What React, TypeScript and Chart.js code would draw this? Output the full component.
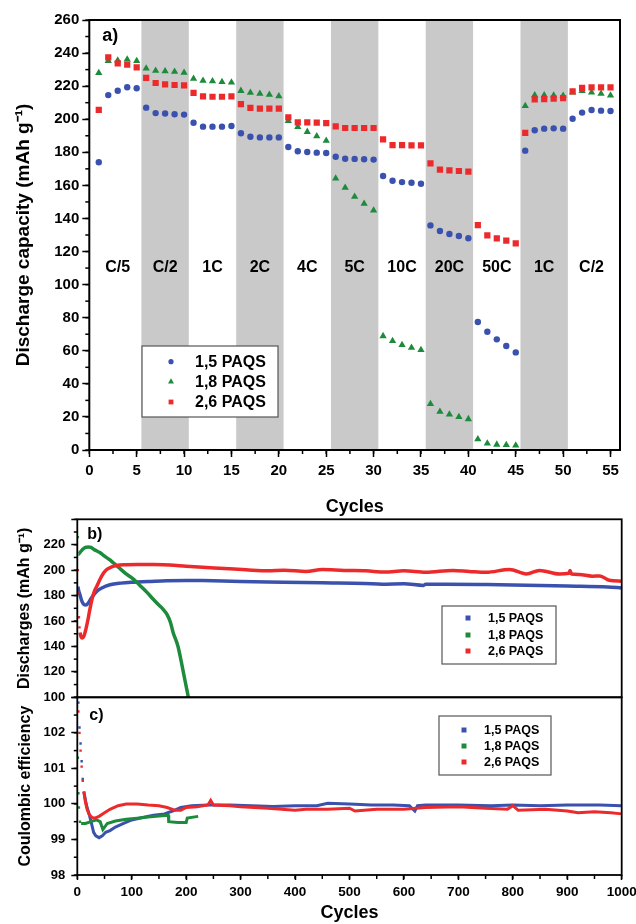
import React, { useEffect, useRef } from 'react';
import { Chart, registerables } from 'chart.js';

Chart.register(...registerables);

const FONT = '"Liberation Sans", Arial, Helvetica, sans-serif';
const BLUE = '#3A52AE';
const GREEN = '#1C8B3B';
const RED = '#EC2A2C';
const BAND = '#C9C9C9';

// ---------- Panel a: rate capability ----------
const cyclesA = [1, 2, 3, 4, 5, 6, 7, 8, 9, 10, 11, 12, 13, 14, 15, 16, 17, 18, 19, 20, 21, 22, 23, 24, 25, 26, 27, 28, 29, 30, 31, 32, 33, 34, 35, 36, 37, 38, 39, 40, 41, 42, 43, 44, 45, 46, 47, 48, 49, 50, 51, 52, 53, 54, 55];
const capacity15 = [174, 214.6, 217.2, 219.3, 218.7, 207, 203.7, 203.5, 203, 202.8, 197.9, 195.5, 195.5, 195.5, 195.9, 191.5, 189.4, 189, 189, 189, 183.2, 180.6, 180.2, 179.8, 179.6, 177.3, 176.1, 176, 175.8, 175.6, 165.7, 162.8, 162, 161.6, 161, 135.8, 132.4, 130.6, 129.4, 128, 77.4, 71.5, 66.9, 62.9, 59, 181, 193.3, 194.3, 194.5, 194.3, 200.3, 204, 205.6, 205.2, 205];
const capacity18 = [228, 235.2, 235.6, 236.2, 235.2, 230.7, 229.4, 229, 228.8, 228.1, 224.5, 223.3, 223, 222.5, 222.2, 217.2, 216, 215.4, 214.8, 214, 199, 195.3, 192.4, 189.7, 187, 164.2, 158.6, 153.2, 149, 144.9, 68.9, 65.9, 63.5, 61.9, 60.5, 27.8, 23.2, 21.5, 20, 18.7, 6.5, 4, 3.3, 3.1, 2.8, 208, 214.6, 214.6, 214.4, 214.2, 216.2, 217.2, 216.2, 215.4, 214.4];
const capacity26 = [205.6, 237.4, 233.8, 233, 231.4, 225, 221.9, 221.1, 220.7, 220.5, 216, 213.8, 213.6, 213.6, 213.8, 209.2, 206.8, 206.4, 206.4, 206.4, 201.1, 198.1, 198.1, 197.9, 197.7, 195.7, 194.7, 194.7, 194.7, 194.7, 187.8, 184.4, 184.4, 184.2, 184.2, 173.3, 169.5, 169.1, 168.7, 168.3, 136, 129.8, 128, 126.6, 125, 191.8, 212, 212.2, 212.5, 212.8, 216.9, 218.9, 219.3, 219.3, 219.3];
const rateLabels = ['C/5', 'C/2', '1C', '2C', '4C', '5C', '10C', '20C', '50C', '1C', 'C/2'];
const cyclesPerRate = 5;
const rateLabelLevel = 110;
const seriesNames = ['1,5 PAQS', '1,8 PAQS', '2,6 PAQS'];

// ---------- Panel b: long cycling discharge capacity ----------
const b15Cycles = [1, 3, 5, 8, 12, 16, 20, 25, 30, 36, 45, 60, 80, 103, 130, 164, 200, 230, 300, 379, 450, 528, 560, 600, 636, 640, 677, 751, 825, 900, 974, 1000];
const b15Cap = [187, 183, 180.5, 176, 173, 172.5, 174, 177.5, 180.5, 183.5, 186, 188.5, 189.8, 190.5, 191, 191.7, 191.9, 191.8, 191, 190.5, 190, 189.5, 189, 189.3, 188, 189, 189, 188.7, 188.2, 187.5, 186.8, 186];
const b18Cycles = [1, 2, 5, 10, 15, 20, 25, 30, 36, 42, 50, 60, 66, 75, 91, 103, 115, 128, 140, 150, 158, 165, 171, 176, 185, 191, 197, 204];
const b18Cap = [226, 212.5, 214, 216.5, 218, 218.3, 218, 216.5, 215, 213.7, 211, 208, 205.8, 202.5, 196.6, 193, 188, 182.5, 176.9, 172.5, 169, 165, 159, 151, 140, 128, 115, 100];
const b26Cycles = [1, 2, 3, 4, 5, 7, 9, 12, 16, 20, 23, 27, 31, 36, 42, 48, 54, 63, 72, 90, 110, 140, 170, 200, 230, 270, 310, 350, 380, 420, 450, 490, 530, 565, 600, 640, 690, 720, 751, 794, 825, 849, 886, 903, 905, 908, 922, 946, 960, 977, 1000];
const b26Cap = [200, 182, 163, 155, 151, 147.5, 146.6, 148, 154, 162, 169, 177, 183, 187.5, 193, 197.5, 200.5, 202.5, 203.7, 204.3, 204.5, 204.4, 204, 203, 202.2, 201.3, 200.3, 199.5, 200, 199, 200.5, 199.8, 199.5, 198.5, 199.5, 198.3, 199.8, 199, 198.3, 200.6, 197, 199.8, 197, 197.5, 199.8, 197, 196.6, 195.3, 195.5, 192, 191.3];

// ---------- Panel c: coulombic efficiency ----------
const c15Cycles = [2, 4, 6, 8, 10, 12, 15, 18, 22, 26, 30, 34, 40, 46, 52, 60, 70, 85, 100, 120, 140, 160, 175, 190, 210, 240, 280, 320, 360, 400, 440, 460, 500, 540, 580, 610, 620, 625, 640, 700, 760, 800, 850, 900, 960, 1000];
const c15Eff = [102.85, 102.15, 101.7, 101.2, 100.7, 100.35, 100.1, 99.9, 99.7, 99.45, 99.2, 99.1, 99.05, 99.1, 99.2, 99.25, 99.35, 99.45, 99.55, 99.62, 99.68, 99.72, 99.8, 99.9, 99.95, 99.97, 99.97, 99.95, 99.93, 99.95, 99.95, 100.02, 100.0, 99.97, 99.97, 99.95, 99.8, 99.95, 99.97, 99.97, 99.95, 99.97, 99.95, 99.97, 99.97, 99.95];
const c18Cycles = [1, 2, 3, 5, 7, 15, 25, 35, 42, 47, 55, 70, 90, 110, 130, 150, 167, 168, 185, 200, 202, 222];
const c18Eff = [101.3, 100.3, 99.9, 99.5, 99.45, 99.45, 99.5, 99.55, 99.5, 99.28, 99.45, 99.52, 99.57, 99.6, 99.63, 99.66, 99.68, 99.5, 99.48, 99.48, 99.6, 99.65];
const c26Cycles = [2, 4, 6, 8, 10, 12, 15, 18, 22, 27, 32, 40, 50, 60, 75, 90, 110, 130, 150, 165, 180, 190, 200, 220, 240, 245, 250, 280, 300, 350, 400, 420, 460, 500, 510, 550, 600, 640, 700, 750, 790, 800, 810, 860, 900, 920, 950, 980, 1000];
const c26Eff = [102.6, 102.0, 101.5, 101.05, 100.65, 100.35, 100.05, 99.85, 99.7, 99.62, 99.6, 99.65, 99.75, 99.85, 99.95, 100.0, 100.0, 99.97, 99.95, 99.9, 99.82, 99.82, 99.9, 99.92, 99.97, 100.1, 99.97, 99.95, 99.92, 99.88, 99.82, 99.85, 99.85, 99.88, 99.8, 99.85, 99.85, 99.9, 99.92, 99.88, 99.85, 99.95, 99.82, 99.85, 99.8, 99.75, 99.78, 99.75, 99.72];

// ---------- helpers ----------
const W = 636;
type Area = { l: number; r: number; t: number; b: number; h: number };

const bold = (size: number) => ({ family: FONT, size, weight: 'bold' as const });
const pts = (xs: number[], ys: number[]) => xs.map((x, i) => ({ x, y: ys[i] }));

type LegendCfg = { x: number; y: number; w: number; h: number; rows: number[]; markerX: number; textX: number; font: string; square?: number };
type Decor = {
  frame: number;
  minorX?: { step: number; len: number };
  minorY?: { step: number; len: number };
  bands?: [number, number][];
  dataTexts?: { text: string; x: number; y: number }[];
  dataTextFont?: string;
  panel: { text: string; dx: number; dy: number; font: string };
  legend: LegendCfg;
};

function drawMarker(ctx: CanvasRenderingContext2D, style: string, x: number, y: number, r: number, color: string) {
  ctx.fillStyle = color;
  ctx.beginPath();
  if (style === 'circle') {
    ctx.arc(x, y, r, 0, Math.PI * 2);
  } else if (style === 'triangle') {
    ctx.moveTo(x, y - r);
    ctx.lineTo(x + r * 0.866, y + r * 0.5);
    ctx.lineTo(x - r * 0.866, y + r * 0.5);
    ctx.closePath();
  } else {
    ctx.rect(x - r, y - r, 2 * r, 2 * r);
  }
  ctx.fill();
}

function makeDecor(cfg: Decor) {
  return {
    id: 'decor',
    beforeDatasetsDraw(chart: any) {
      const { ctx, chartArea: a, scales } = chart;
      ctx.save();
      if (cfg.bands) {
        ctx.fillStyle = BAND;
        for (const [from, to] of cfg.bands) {
          const x1 = scales.x.getPixelForValue(from);
          const x2 = scales.x.getPixelForValue(to);
          ctx.fillRect(x1, a.top, x2 - x1, a.bottom - a.top);
        }
      }
      if (cfg.dataTexts) {
        ctx.fillStyle = '#000';
        ctx.font = cfg.dataTextFont;
        ctx.textAlign = 'center';
        ctx.textBaseline = 'middle';
        for (const t of cfg.dataTexts) {
          ctx.fillText(t.text, scales.x.getPixelForValue(t.x), scales.y.getPixelForValue(t.y));
        }
      }
      ctx.restore();
    },
    afterDraw(chart: any) {
      const { ctx, chartArea: a, scales } = chart;
      ctx.save();
      // minor ticks
      ctx.strokeStyle = '#000';
      ctx.lineWidth = 1.5;
      if (cfg.minorX) {
        const s = scales.x;
        const start = Math.ceil(s.min / cfg.minorX.step);
        for (let i = start; i * cfg.minorX.step <= s.max + 1e-9; i++) {
          const p = s.getPixelForValue(i * cfg.minorX.step);
          ctx.beginPath();
          ctx.moveTo(p, a.bottom);
          ctx.lineTo(p, a.bottom + cfg.minorX.len);
          ctx.stroke();
        }
      }
      if (cfg.minorY) {
        const s = scales.y;
        const start = Math.ceil(s.min / cfg.minorY.step - 1e-9);
        for (let i = start; i * cfg.minorY.step <= s.max + 1e-9; i++) {
          const p = s.getPixelForValue(i * cfg.minorY.step);
          ctx.beginPath();
          ctx.moveTo(a.left - cfg.minorY.len, p);
          ctx.lineTo(a.left, p);
          ctx.stroke();
        }
      }
      // frame
      ctx.lineWidth = cfg.frame;
      ctx.strokeStyle = '#000';
      ctx.strokeRect(a.left, a.top, a.right - a.left, a.bottom - a.top);
      // panel label
      ctx.fillStyle = '#000';
      ctx.font = cfg.panel.font;
      ctx.textAlign = 'left';
      ctx.textBaseline = 'middle';
      ctx.fillText(cfg.panel.text, a.left + cfg.panel.dx, a.top + cfg.panel.dy);
      // legend
      const L = cfg.legend;
      ctx.fillStyle = '#fff';
      ctx.fillRect(L.x, L.y, L.w, L.h);
      ctx.lineWidth = 1.2;
      ctx.strokeStyle = '#555';
      ctx.strokeRect(L.x, L.y, L.w, L.h);
      chart.data.datasets.forEach((ds: any, i: number) => {
        const color = ds.backgroundColor as string;
        if (L.square) {
          drawMarker(ctx, 'rect', L.markerX, L.rows[i], L.square, color);
        } else {
          const style = ds.pointStyle;
          const r = style === 'circle' ? 2.6 : style === 'triangle' ? 3.4 : 2.4;
          drawMarker(ctx, style, L.markerX, L.rows[i], r, color);
        }
        ctx.fillStyle = '#000';
        ctx.font = L.font;
        ctx.textAlign = 'left';
        ctx.textBaseline = 'middle';
        ctx.fillText(ds.label, L.textX, L.rows[i] + 0.5);
      });
      ctx.restore();
    },
  };
}

function xAxis(area: Area, o: { min: number; max: number; step: number; labels: boolean; tickLen: number; tickPad: number; tickSize: number; title?: string; titleSize?: number; titlePad?: number }) {
  return {
    type: 'linear' as const,
    position: 'bottom' as const,
    min: o.min,
    max: o.max,
    afterFit: (s: any) => {
      s.height = area.h - area.b;
      s.paddingLeft = 0;
      s.paddingRight = 0;
    },
    border: { display: false },
    grid: { display: o.tickLen > 0, drawOnChartArea: false, drawTicks: true, tickLength: o.tickLen, tickWidth: 1.5, tickColor: '#000' },
    ticks: {
      display: o.labels,
      stepSize: o.step,
      autoSkip: false,
      maxRotation: 0,
      minRotation: 0,
      includeBounds: false,
      padding: o.tickPad,
      font: bold(o.tickSize),
      color: '#000',
      callback: (v: any) => String(v),
    },
    title: o.title
      ? { display: true, text: o.title, font: bold(o.titleSize || 17), color: '#000', padding: { top: 0, bottom: o.titlePad || 0 } }
      : { display: false },
  };
}

function yAxis(area: Area, o: { min: number; max: number; step: number; hide: number[]; tickLen: number; tickPad: number; tickSize: number; title: string; titleSize: number; titlePad: number }) {
  return {
    type: 'linear' as const,
    position: 'left' as const,
    min: o.min,
    max: o.max,
    afterFit: (s: any) => {
      s.width = area.l;
      s.paddingTop = 0;
      s.paddingBottom = 0;
    },
    border: { display: false },
    grid: { display: true, drawOnChartArea: false, drawTicks: true, tickLength: o.tickLen, tickWidth: 1.5, tickColor: '#000' },
    ticks: {
      stepSize: o.step,
      autoSkip: false,
      includeBounds: false,
      padding: o.tickPad,
      font: bold(o.tickSize),
      color: '#000',
      callback: (v: any) => (o.hide.includes(Number(v)) ? '' : String(v)),
    },
    title: { display: true, text: o.title, font: bold(o.titleSize), color: '#000', padding: { top: o.titlePad, bottom: 0 } },
  };
}

function baseOptions(area: Area) {
  return {
    responsive: true,
    maintainAspectRatio: false,
    animation: false as const,
    events: [] as any[],
    layout: { padding: { left: 0, top: area.t, right: W - area.r, bottom: 0 } },
    plugins: { legend: { display: false }, tooltip: { enabled: false } },
  };
}

function lineSet(label: string, xs: number[], ys: number[], color: string, width: number, dotsBefore: number, order: number, smooth: boolean) {
  return {
    label,
    data: pts(xs, ys),
    showLine: true,
    borderColor: color,
    backgroundColor: color,
    borderWidth: width,
    tension: 0,
    cubicInterpolationMode: smooth ? ('monotone' as const) : ('default' as const),
    pointStyle: 'rect',
    pointBorderWidth: 0,
    pointRadius: (ctx: any) => (ctx.raw && ctx.raw.x < dotsBefore ? 1.7 : 0),
    segment: {
      borderColor: (ctx: any) => (ctx.p0.parsed.x < dotsBefore ? 'rgba(0,0,0,0)' : undefined),
    },
    order,
  };
}

// ---------- chart builders ----------
const areaA: Area = { l: 89.3, r: 620, t: 20, b: 450, h: 530 };
const areaB: Area = { l: 77.3, r: 621.7, t: 14.3, b: 192.3, h: 200 };
const areaC: Area = { l: 77.3, r: 621.7, t: 7.3, b: 185, h: 234 };

function buildA(canvas: HTMLCanvasElement) {
  const bands: [number, number][] = [];
  const texts: { text: string; x: number; y: number }[] = [];
  rateLabels.forEach((t, i) => {
    if (i % 2 === 1) bands.push([cyclesPerRate * i + 0.5, cyclesPerRate * (i + 1) + 0.5]);
    texts.push({ text: t, x: cyclesPerRate * i + 3, y: rateLabelLevel });
  });
  return new Chart(canvas, {
    type: 'scatter',
    data: {
      datasets: [
        { label: seriesNames[0], data: pts(cyclesA, capacity15), pointStyle: 'circle', pointRadius: 3.2, backgroundColor: BLUE, borderColor: BLUE, pointBorderWidth: 0, order: 2 },
        { label: seriesNames[1], data: pts(cyclesA, capacity18), pointStyle: 'triangle', pointRadius: 4.2, backgroundColor: GREEN, borderColor: GREEN, pointBorderWidth: 0, order: 1 },
        { label: seriesNames[2], data: pts(cyclesA, capacity26), pointStyle: 'rect', pointRadius: 4.4, backgroundColor: RED, borderColor: RED, pointBorderWidth: 0, order: 0 },
      ] as any,
    },
    options: {
      ...baseOptions(areaA),
      scales: {
        x: xAxis(areaA, { min: 0, max: 56, step: 5, labels: true, tickLen: 7, tickPad: 5, tickSize: 15, title: 'Cycles', titleSize: 18, titlePad: 12 }),
        y: yAxis(areaA, { min: 0, max: 260, step: 20, hide: [], tickLen: 7, tickPad: 3, tickSize: 15, title: 'Discharge capacity (mAh g⁻¹)', titleSize: 19, titlePad: 12 }),
      },
    } as any,
    plugins: [
      makeDecor({
        frame: 2,
        minorX: { step: 2.5, len: 4 },
        minorY: { step: 10, len: 4 },
        bands,
        dataTexts: texts,
        dataTextFont: `bold 16px ${FONT}`,
        panel: { text: 'a)', dx: 13, dy: 16, font: `bold 18px ${FONT}` },
        legend: { x: 142, y: 346, w: 136, h: 71, rows: [361.7, 381.7, 402], markerX: 171, textX: 195, font: `bold 16px ${FONT}` },
      }) as any,
    ],
  });
}

function buildB(canvas: HTMLCanvasElement) {
  return new Chart(canvas, {
    type: 'scatter',
    data: {
      datasets: [
        lineSet(seriesNames[0], b15Cycles, b15Cap, BLUE, 3.5, 0, 2, true),
        lineSet(seriesNames[1], b18Cycles, b18Cap, GREEN, 3.5, 2, 1, true),
        lineSet(seriesNames[2], b26Cycles, b26Cap, RED, 3.5, 5, 0, true),
      ] as any,
    },
    options: {
      ...baseOptions(areaB),
      scales: {
        x: xAxis(areaB, { min: 0, max: 1000, step: 100, labels: false, tickLen: 0, tickPad: 0, tickSize: 13 }),
        y: yAxis(areaB, { min: 100, max: 240, step: 20, hide: [240], tickLen: 6, tickPad: 6, tickSize: 13, title: 'Discharges (mAh g⁻¹)', titleSize: 16, titlePad: 15 }),
      },
    } as any,
    plugins: [
      makeDecor({
        frame: 1.8,
        minorY: { step: 10, len: 3.5 },
        panel: { text: 'b)', dx: 10, dy: 15, font: `bold 16px ${FONT}` },
        legend: { x: 442, y: 101, w: 114, h: 58, rows: [113, 130, 146], markerX: 468, textX: 488, font: `bold 12.5px ${FONT}`, square: 2.5 },
      }) as any,
    ],
  });
}

function buildC(canvas: HTMLCanvasElement) {
  return new Chart(canvas, {
    type: 'scatter',
    data: {
      datasets: [
        lineSet(seriesNames[0], c15Cycles, c15Eff, BLUE, 3, 11, 2, false),
        lineSet(seriesNames[1], c18Cycles, c18Eff, GREEN, 3, 6, 1, false),
        lineSet(seriesNames[2], c26Cycles, c26Eff, RED, 3, 11, 0, false),
      ] as any,
    },
    options: {
      ...baseOptions(areaC),
      scales: {
        x: xAxis(areaC, { min: 0, max: 1000, step: 100, labels: true, tickLen: 5, tickPad: 4, tickSize: 13.5, title: 'Cycles', titleSize: 18, titlePad: 0 }),
        y: yAxis(areaC, { min: 98, max: 103, step: 1, hide: [103], tickLen: 6, tickPad: 6, tickSize: 13, title: 'Coulombic efficiency', titleSize: 16, titlePad: 16 }),
      },
    } as any,
    plugins: [
      makeDecor({
        frame: 1.8,
        minorX: { step: 50, len: 4 },
        minorY: { step: 0.5, len: 3.5 },
        panel: { text: 'c)', dx: 12, dy: 18, font: `bold 16px ${FONT}` },
        legend: { x: 439, y: 26, w: 112, h: 59, rows: [40, 56, 72], markerX: 464, textX: 484, font: `bold 12.5px ${FONT}`, square: 2.5 },
      }) as any,
    ],
  });
}

function ChartBox({ top, height, build }: { top: number; height: number; build: (c: HTMLCanvasElement) => Chart }) {
  const ref = useRef<HTMLCanvasElement>(null);
  useEffect(() => {
    if (!ref.current) return;
    const chart = build(ref.current);
    return () => chart.destroy();
  }, [build]);
  return (
    <div style={{ position: 'absolute', left: 0, top, width: W, height }}>
      <canvas ref={ref} />
    </div>
  );
}

export default function App() {
  return (
    <div style={{ position: 'absolute', left: 0, top: 0, width: W, height: 924, background: '#fff', overflow: 'hidden' }}>
      <ChartBox top={0} height={areaA.h} build={buildA} />
      <ChartBox top={505} height={areaB.h} build={buildB} />
      <ChartBox top={690} height={areaC.h} build={buildC} />
    </div>
  );
}
